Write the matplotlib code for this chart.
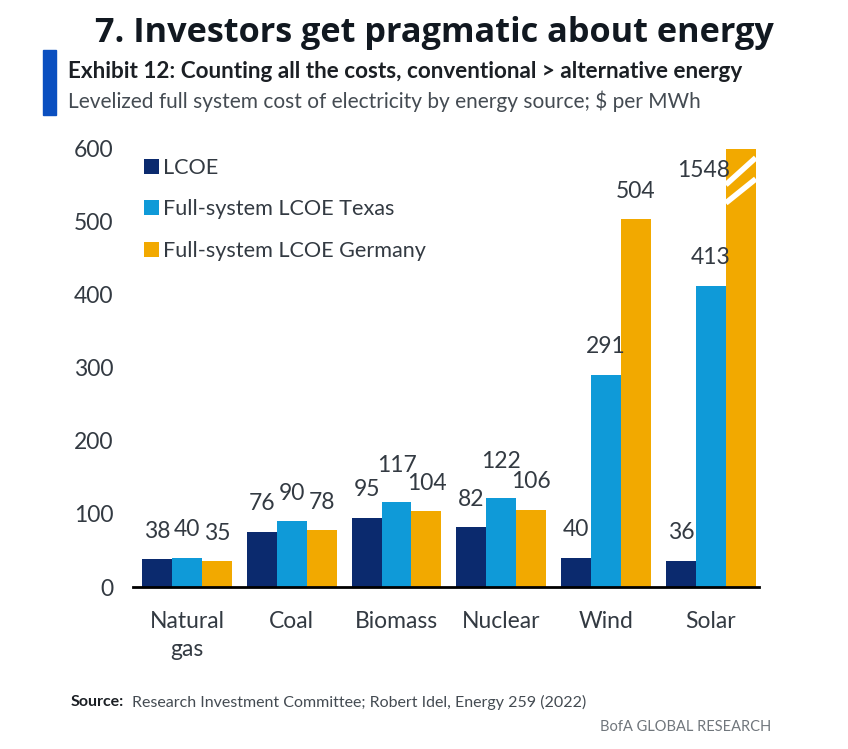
import numpy as np
import matplotlib.pyplot as plt
from matplotlib.patches import Rectangle

# data, $ per MWh
sources = ['Natural\ngas', 'Coal', 'Biomass', 'Nuclear', 'Wind', 'Solar']
lcoe = [38, 76, 95, 82, 40, 36]
texas = [40, 90, 117, 122, 291, 413]
germany = [35, 78, 104, 106, 504, 1548]
y_ticks = [0, 100, 200, 300, 400, 500, 600]

NAVY = '#0b2a6e'
BLUE = '#0f9ad8'
ORANGE = '#f2a900'
TEXT = '#333a42'

plt.rcParams['font.family'] = ['Lato', 'DejaVu Sans']

W, H = 848, 749
fig = plt.figure(figsize=(W / 100, H / 100), dpi=100)

# axes box in pixels of the reference
left, right, top, bottom = 133, 759, 149, 587
ax = fig.add_axes([left / W, 1 - bottom / H, (right - left) / W, (bottom - top) / H])

x = np.arange(len(sources))
w = 0.286
series = [(lcoe, NAVY, 'LCOE'), (texas, BLUE, 'Full-system LCOE Texas'), (germany, ORANGE, 'Full-system LCOE Germany')]
for i, (vals, col, name) in enumerate(series):
    bars = ax.bar(x + (i - 1) * w, vals, w, color=col, label=name, zorder=2)
    for b, v in zip(bars, vals):
        off = 28
        if v in (117, 122):   # pushed up so they clear the neighbours
            off = 36
        if v > 600:
            # broken bar, label sits beside the top
            ax.annotate(str(v), (b.get_x() + b.get_width() / 2, 600), xytext=(-37, -22),
                        textcoords='offset pixels', ha='center', va='center',
                        fontsize=16.5, color=TEXT, zorder=5)
            for lev in [(551, 588), (526, 559)]:
                ax.plot([b.get_x(), b.get_x() + b.get_width()], lev, color='white', lw=4,
                        solid_capstyle='butt', zorder=3)
        else:
            ax.annotate(str(v), (b.get_x() + b.get_width() / 2, v), xytext=(0, off),
                        textcoords='offset pixels', ha='center', va='center',
                        fontsize=16.5, color=TEXT, annotation_clip=False, zorder=5)

ax.set_xlim(-0.515, 5.46)
ax.set_ylim(0, 600)
ax.set_xticks(x, sources)
ax.set_yticks(y_ticks)
ax.tick_params(axis='both', length=0, labelsize=16.5, labelcolor=TEXT)
ax.tick_params(axis='x', pad=17)
ax.tick_params(axis='y', pad=14)
for lbl in ax.get_xticklabels():
    lbl.set_linespacing(1.45)
for s in ['top', 'right', 'left']:
    ax.spines[s].set_visible(False)
ax.spines['bottom'].set_color('black')
ax.spines['bottom'].set_linewidth(2)
ax.spines['bottom'].set_zorder(4)

leg = ax.legend(loc='upper left', bbox_to_anchor=(0.018, 0.98), frameon=False, fontsize=15.6,
                handlelength=0.7, handleheight=0.7, handletextpad=0.15, labelspacing=1.0,
                labelcolor=TEXT, borderpad=0, borderaxespad=0)

# header
fig.text(434 / W, 1 - 33 / H, '7. Investors get pragmatic about energy', ha='center', va='center',
         fontsize=24.7, fontweight='bold', color='#111820', family=['Open Sans', 'DejaVu Sans'])
fig.add_artist(Rectangle((43 / W, 1 - 115 / H), 13 / W, 65 / H, color='#0a4fc0',
                         transform=fig.transFigure))
fig.text(68 / W, 1 - 72 / H, 'Exhibit 12: Counting all the costs, conventional > alternative energy',
         ha='left', va='center', fontsize=16.2, fontweight='bold', color='#1b1f24')
fig.text(68 / W, 1 - 101 / H, 'Levelized full system cost of electricity by energy source; $ per MWh',
         ha='left', va='center', fontsize=15, color='#444b52')

# footer
fig.text(71 / W, 1 - 702 / H, 'Source:', ha='left', va='center', fontsize=11.5,
         fontweight='bold', color='#1b1f24')
fig.text(132 / W, 1 - 702 / H, 'Research Investment Committee; Robert Idel, Energy 259 (2022)',
         ha='left', va='center', fontsize=11.5, color='#444b52')
fig.text(771 / W, 1 - 727 / H, 'BofA GLOBAL RESEARCH', ha='right', va='center', fontsize=10.5,
         color='#70767c')

fig.savefig('out.png', dpi=100)
